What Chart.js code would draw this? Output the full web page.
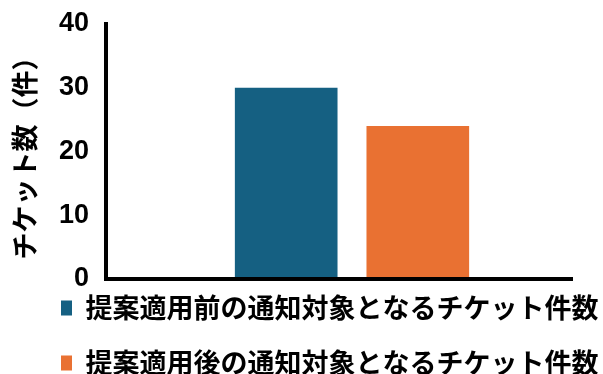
<!DOCTYPE html>
<html>
<head>
<meta charset="utf-8">
<script src="https://cdn.jsdelivr.net/npm/chart.js@4.4.0/dist/chart.umd.min.js"></script>
<style>
  html, body { margin: 0; padding: 0; background: #fff; }
  #wrap { width: 603px; height: 374px; position: relative; }
</style>
</head>
<body>
<div id="wrap"><canvas id="myChart"></canvas></div>
<script>
// data
const categories = [''];
const seriesLabels = ['提案適用前の通知対象となるチケット件数', '提案適用後の通知対象となるチケット件数'];
const beforeValues = [30];
const afterValues = [24];
const seriesColors = ['#156082', '#E97132'];
const yTicks = [0, 10, 20, 30, 40];
const yTitle = 'チケット数（件）';

const JP = '"Noto Sans CJK JP", "Noto Sans", sans-serif';

// x axis line stops short of the plot's right edge, like the original
const xAxisLine = {
    id: 'xAxisLine',
    afterDatasetsDraw(chart) {
        const {ctx, chartArea, scales} = chart;
        const y = scales.y.getPixelForValue(0);
        ctx.save();
        ctx.strokeStyle = '#000';
        ctx.lineWidth = 4;
        ctx.beginPath();
        ctx.moveTo(chartArea.left - 2, y);
        ctx.lineTo(chartArea.right - 25, y);
        ctx.stroke();
        ctx.restore();
    }
};

// pull the legend up a bit so it tucks under the axis
const legendNudge = {
    id: 'legendNudge',
    afterLayout(chart) {
        chart.legend.top -= 12.5;
        chart.legend.bottom -= 12.5;
    }
};

new Chart(document.getElementById('myChart'), {
    type: 'bar',
    data: {
        labels: categories,
        datasets: [
            { label: seriesLabels[0], data: beforeValues, backgroundColor: seriesColors[0] },
            { label: seriesLabels[1], data: afterValues, backgroundColor: seriesColors[1] }
        ]
    },
    options: {
        responsive: true,
        maintainAspectRatio: false,
        animation: false,
        categoryPercentage: 0.535,
        barPercentage: 0.78,
        layout: { padding: { top: 24, left: 33, right: 5, bottom: -25 } },
        plugins: {
            tooltip: { enabled: false },
            legend: {
                position: 'bottom',
                align: 'start',
                labels: {
                    boxWidth: 11,
                    boxHeight: 15,
                    padding: 28,
                    color: '#000',
                    font: { family: JP, size: 27, weight: 'bold' }
                }
            }
        },
        scales: {
            x: {
                grid: { display: false, drawTicks: false },
                border: { display: false },
                ticks: { display: false }
            },
            y: {
                min: yTicks[0],
                max: yTicks[yTicks.length - 1],
                afterBuildTicks: (s) => { s.ticks = yTicks.map(v => ({ value: v })); },
                afterFit: (s) => {
                    s.width = 73;
                    s.paddingTop = 0;
                    s.paddingBottom = 0;
                },
                grid: { display: false, drawTicks: false },
                border: { display: true, color: '#000', width: 4 },
                ticks: {
                    padding: 17,
                    color: '#000',
                    font: { family: '"Liberation Sans", Arial, sans-serif', size: 27, weight: 'bold' }
                },
                title: {
                    display: true,
                    text: yTitle,
                    color: '#000',
                    padding: { top: -24, bottom: 0 },
                    font: { family: JP, size: 27, weight: 'bold' }
                }
            }
        }
    },
    plugins: [xAxisLine, legendNudge]
});
</script>
</body>
</html>
